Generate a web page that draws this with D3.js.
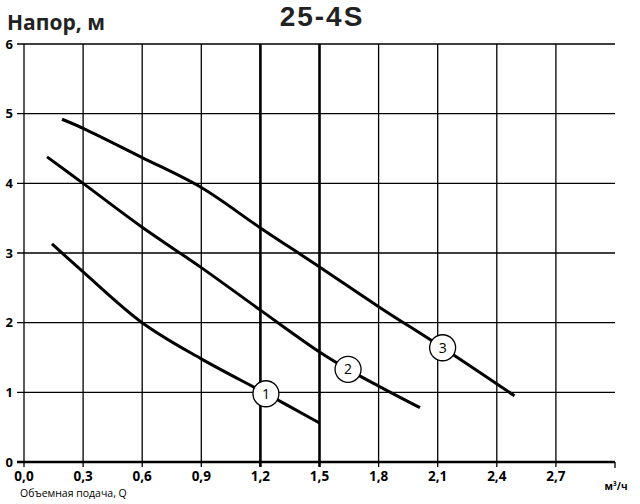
<!DOCTYPE html>
<html>
<head>
<meta charset="utf-8">
<script src="https://cdn.jsdelivr.net/npm/d3@7"></script>
<style>
  html, body { margin: 0; padding: 0; background: #fff; }
  svg { display: block; }
</style>
</head>
<body>
<svg id="chart" width="640" height="504"></svg>
<script>
// ---- data ----
const title = "25-4S";
const yAxisTitle = "Напор, м";
const xAxisTitle = "Объемная подача, Q";
const xUnit = "м³/ч";
const xTicks = [0, 0.3, 0.6, 0.9, 1.2, 1.5, 1.8, 2.1, 2.4, 2.7];
const xTickLabels = ["0,0", "0,3", "0,6", "0,9", "1,2", "1,5", "1,8", "2,1", "2,4", "2,7"];
const yTicks = [0, 1, 2, 3, 4, 5, 6];
const thickX = [1.2, 1.5];

const curve1X = [0.142, 0.3, 0.6, 0.9, 1.23, 1.5];
const curve1Y = [3.13, 2.73, 2.0, 1.48, 0.98, 0.56];
const curve2X = [0.117, 0.3, 0.6, 0.9, 1.2, 1.5, 1.645, 1.8, 2.01];
const curve2Y = [4.38, 4.0, 3.37, 2.79, 2.18, 1.58, 1.33, 1.09, 0.78];
const curve3X = [0.193, 0.3, 0.6, 0.9, 1.2, 1.5, 1.8, 2.125, 2.49];
const curve3Y = [4.92, 4.79, 4.37, 3.94, 3.36, 2.80, 2.23, 1.64, 0.95];

const labelNames = ["1", "2", "3"];
const labelX = [1.228, 1.645, 2.125];
const labelY = [0.98, 1.33, 1.64];

// ---- chart ----
const svg = d3.select("#chart");
const x = d3.scaleLinear().domain([0, 3]).range([24, 615]);
const y = d3.scaleLinear().domain([0, 6]).range([462, 44]);
const font = "'Open Sans', 'Noto Sans', sans-serif";

// horizontal grid lines + y ticks
svg.append("g").selectAll("line").data(yTicks.filter(d => d > 0)).join("line")
  .attr("x1", 17).attr("x2", x(3))
  .attr("y1", d => y(d)).attr("y2", d => y(d))
  .attr("stroke", "#000").attr("stroke-width", 1.3);

// vertical grid lines
svg.append("g").selectAll("line").data(xTicks).join("line")
  .attr("x1", d => x(d)).attr("x2", d => x(d))
  .attr("y1", y(6)).attr("y2", y(0) + 5)
  .attr("stroke", "#000")
  .attr("stroke-width", d => thickX.includes(d) ? 2.6 : 1.3);

// right end tick
svg.append("line")
  .attr("x1", x(3)).attr("x2", x(3)).attr("y1", y(0)).attr("y2", y(0) + 6)
  .attr("stroke", "#000").attr("stroke-width", 1.3);

// baseline
svg.append("line")
  .attr("x1", 17).attr("x2", x(3)).attr("y1", y(0)).attr("y2", y(0))
  .attr("stroke", "#000").attr("stroke-width", 2.6);

// y tick labels
svg.append("g").selectAll("text").data(yTicks).join("text")
  .attr("x", 13).attr("y", d => y(d)).attr("dy", "0.35em")
  .attr("text-anchor", "end")
  .attr("font-family", font).attr("font-weight", 700).attr("font-size", 13)
  .text(d => d);

// x tick labels
svg.append("g").selectAll("text").data(xTicks).join("text")
  .attr("x", d => x(d)).attr("y", 481)
  .attr("text-anchor", "middle")
  .attr("font-family", font).attr("font-weight", 700).attr("font-size", 13.5)
  .text((d, i) => xTickLabels[i]);

// unit
svg.append("text").attr("x", 616).attr("y", 490).attr("text-anchor", "middle")
  .attr("font-family", font).attr("font-weight", 700).attr("font-size", 10)
  .text(xUnit);

// axis titles
svg.append("text").attr("x", 20).attr("y", 497)
  .attr("font-family", font).attr("font-size", 10.5).text(xAxisTitle);
svg.append("text").attr("x", 7).attr("y", 30)
  .attr("font-family", font).attr("font-weight", 700).attr("font-size", 21)
  .attr("fill", "#222").text(yAxisTitle);
svg.append("text").attr("x", 322).attr("y", 26).attr("text-anchor", "middle")
  .attr("font-family", "'Liberation Sans', Arial, sans-serif").attr("font-weight", 700)
  .attr("font-size", 28).attr("letter-spacing", 2)
  .attr("fill", "#222").text(title);

// curves
const line = d3.line().x(d => x(d[0])).y(d => y(d[1])).curve(d3.curveCatmullRom.alpha(0.5));
[[curve1X, curve1Y], [curve2X, curve2Y], [curve3X, curve3Y]].forEach(([xs, ys]) => {
  svg.append("path").datum(xs.map((v, i) => [v, ys[i]]))
    .attr("d", line).attr("fill", "none").attr("stroke", "#000")
    .attr("stroke-width", 3).attr("stroke-linecap", "butt");
});

// circle labels
const lg = svg.append("g").selectAll("g").data(labelNames).join("g")
  .attr("transform", (d, i) => `translate(${x(labelX[i])},${y(labelY[i])})`);
lg.append("circle").attr("r", 13).attr("fill", "#fff").attr("stroke", "#000").attr("stroke-width", 1.3);
lg.append("text").attr("text-anchor", "middle").attr("dy", "0.36em")
  .attr("font-family", font).attr("font-size", 14).text(d => d);
</script>
</body>
</html>
